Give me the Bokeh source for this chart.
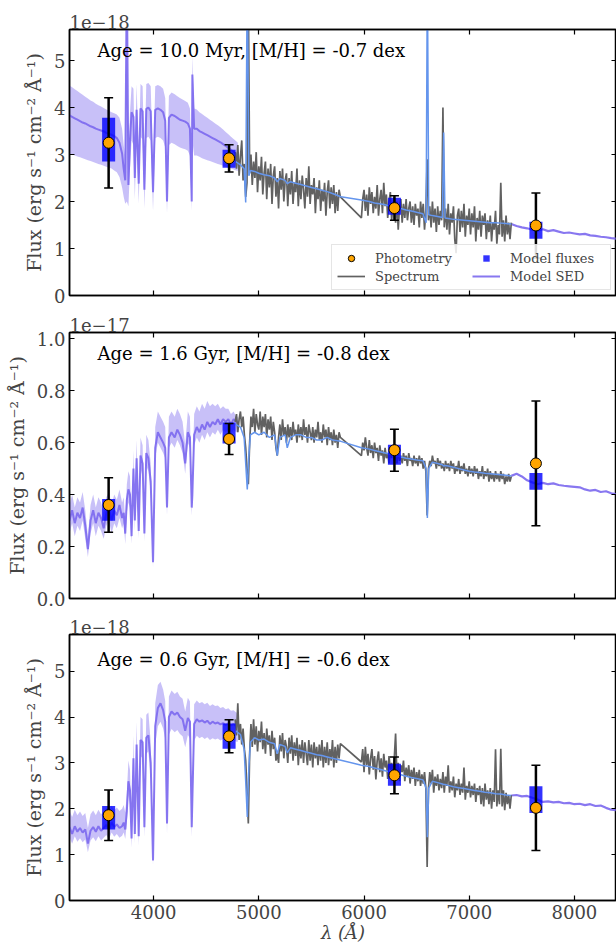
from bokeh.plotting import figure
from bokeh.models import (Label, Legend, LegendItem, LinearAxis, FixedTicker,
                          Range1d, PrintfTickFormatter)
from bokeh.layouts import column
from bokeh.embed import file_html
from bokeh.resources import INLINE

FONT = "DejaVu Serif"

# ---------------- shared axes / labels ----------------
x_ticks = [4000, 5000, 6000, 7000, 8000]
y_ticks_p1 = [0, 1, 2, 3, 4, 5]
y_ticks_p2 = [0.0, 0.2, 0.4, 0.6, 0.8, 1.0]
y_ticks_p3 = [0, 1, 2, 3, 4, 5]
info_texts = ["Age = 10.0 Myr, [M/H] = -0.7 dex",
              "Age = 1.6 Gyr, [M/H] = -0.8 dex",
              "Age = 0.6 Gyr, [M/H] = -0.6 dex"]
scale_texts = ["1e\u221218", "1e\u221217", "1e\u221218"]
legend_labels = ["Photometry", "Spectrum", "Model fluxes", "Model SED"]

# ---------------- wavelength grids (Angstrom) ----------------
sed_wave = [3200, 3225, 3250, 3275, 3300, 3325, 3350, 3375, 3400, 3425, 3450, 3475, 3500, 3525, 3550, 3575, 3600, 3625, 3650, 3675, 3700,
            3715, 3730, 3745, 3760, 3775, 3790, 3808, 3821, 3838, 3858, 3875, 3895, 3912, 3930, 3950, 3972, 3994, 4015, 4040, 4065, 4090, 4110, 4127, 4145, 4170,
            4200, 4225, 4250, 4275, 4300, 4325, 4345, 4362, 4368, 4385,
            4410, 4435, 4460, 4485, 4510, 4535, 4560, 4585, 4610, 4635, 4660, 4685, 4710, 4735, 4760, 4785, 4800]
model_wave = [4780, 4825, 4860, 4875, 4890, 4905, 4920, 4960, 5000, 5050,
              5100, 5150, 5175, 5200, 5250, 5270, 5300, 5350, 5400, 5450,
              5500, 5550, 5600, 5650, 5700, 5780, 5975, 6050, 6100, 6150,
              6200, 6250, 6300, 6350, 6400, 6450, 6500, 6560, 6590, 6602,
              6615, 6650, 6700, 6745, 6757, 6770, 6800, 6850, 6900, 6950,
              7000, 7050, 7100, 7150, 7200, 7250, 7300, 7350, 7400]
# observed spectrum: 12.5 A sampling, with a gap between 5775 and 5975 A
spec_wave = [4775 + 12.5 * i for i in range(81)] + [5975 + 12.5 * j for j in range(115)]
tail_wave = list(range(7400, 8401, 50))
phot_wave = [3572, 4717, 6289, 7634]

# ---------------- panel 1 (x 1e-18) ----------------
p1_sed = [3.83, 3.80, 3.77, 3.74, 3.71, 3.68, 3.66, 3.63, 3.60, 3.58, 3.55, 3.53, 3.51, 3.49, 3.46, 3.44, 3.42, 3.39, 3.35, 3.25, 3.02,
          2.70, 2.45, 7.00, 2.35, 3.30, 3.90, 3.80, 2.50, 3.95, 2.38, 3.98, 3.92, 2.25, 3.97, 4.00, 3.92, 2.20, 3.95, 3.98, 3.95, 3.90, 3.72, 2.00, 3.78, 3.85,
          3.82, 3.78, 3.74, 3.72, 3.70, 3.66, 3.55, 2.00, 4.70, 3.55,
          3.55, 3.50, 3.47, 3.44, 3.41, 3.38, 3.35, 3.32, 3.29, 3.26, 3.22, 3.18, 3.14, 3.10, 3.06, 3.02, 2.99]
p1_sed_hi = [4.47, 4.43, 4.39, 4.35, 4.31, 4.27, 4.23, 4.19, 4.15, 4.12, 4.08, 4.05, 4.02, 3.99, 3.96, 3.93, 3.90, 3.88, 3.85, 3.78, 3.55,
             3.20, 2.95, 7.00, 2.85, 3.90, 4.45, 4.40, 3.00, 4.50, 2.90, 4.50, 4.45, 2.80, 4.50, 4.52, 4.45, 2.70, 4.45, 4.48, 4.45, 4.40, 4.20, 2.45, 4.25, 4.32,
             4.28, 4.24, 4.20, 4.17, 4.14, 4.10, 3.98, 2.45, 5.10, 3.98,
             3.96, 3.90, 3.86, 3.82, 3.78, 3.74, 3.70, 3.66, 3.62, 3.58, 3.53, 3.48, 3.43, 3.38, 3.33, 3.28, 3.25]
p1_sed_lo = [3.02, 3.00, 2.98, 2.96, 2.94, 2.92, 2.90, 2.88, 2.86, 2.84, 2.82, 2.80, 2.78, 2.76, 2.74, 2.72, 2.70, 2.66, 2.62, 2.52, 2.30,
             2.10, 1.95, 2.00, 1.90, 2.70, 3.30, 3.20, 2.05, 3.35, 1.95, 3.38, 3.32, 1.85, 3.35, 3.38, 3.30, 1.80, 3.35, 3.38, 3.35, 3.30, 3.15, 1.75, 3.20, 3.25,
             3.22, 3.18, 3.15, 3.13, 3.11, 3.08, 2.98, 1.80, 3.30, 2.98,
             2.98, 2.95, 2.92, 2.90, 2.88, 2.86, 2.84, 2.82, 2.80, 2.78, 2.76, 2.74, 2.72, 2.70, 2.68, 2.66, 2.65]
p1_model = [2.85, 2.78, 2.70, 1.98, 7.00, 2.55, 2.66, 2.64, 2.60, 2.57,
            2.55, 2.50, 2.42, 2.49, 2.45, 2.38, 2.42, 2.39, 2.36, 2.33,
            2.30, 2.27, 2.24, 2.21, 2.17, 2.10, 2.03, 2.00, 1.97, 1.95,
            1.93, 1.90, 1.87, 1.85, 1.82, 1.80, 1.77, 1.74, 1.55, 7.00,
            1.72, 1.70, 1.68, 1.66, 3.47, 1.65, 1.64, 1.62, 1.61, 1.60,
            1.59, 1.58, 1.57, 1.56, 1.55, 1.55, 1.54, 1.53, 1.52]
p1_spec = [3.05, 2.70, 3.20, 2.55, 2.95, 3.30, 2.45, 2.80, 2.10, 2.40,
           6.50, 2.60, 3.00, 2.35, 2.85, 2.50, 3.05, 2.20, 2.75, 2.45,
           2.95, 2.15, 2.60, 2.85, 2.05, 2.70, 2.30, 2.80, 1.95, 2.55,
           2.75, 2.10, 2.50, 1.85, 2.65, 2.25, 2.70, 2.00, 2.45, 2.60,
           1.90, 2.50, 2.15, 2.65, 1.95, 2.40, 2.20, 2.70, 1.90, 2.45,
           2.05, 2.55, 2.25, 1.85, 2.50, 2.10, 2.75, 1.95, 2.35, 2.15,
           2.50, 1.75, 2.30, 2.05, 2.45, 1.80, 2.25, 2.00, 2.40, 1.70,
           2.20, 2.45, 1.85, 2.30, 1.95, 2.35, 1.75, 2.20, 1.80, 2.25, 2.10,
           1.65, 2.05, 2.25, 1.80, 2.15, 1.70, 2.30, 1.95, 2.20, 1.75,
           2.10, 1.85, 2.35, 1.70, 2.05, 2.25, 1.75, 2.40, 1.90, 2.15,
           1.65, 2.00, 2.20, 1.60, 1.95, 2.10, 1.55, 2.00, 1.40, 1.90,
           2.05, 1.55, 1.95, 1.65, 2.05, 1.60, 1.85, 2.00, 1.55, 1.90,
           1.50, 1.95, 1.70, 1.85, 1.45, 2.00, 1.65, 1.95, 1.40, 1.80,
           2.90, 1.60, 1.90, 1.45, 2.00, 1.55, 1.85, 1.35, 1.90, 1.50,
           1.80, 1.60, 4.00, 1.45, 1.85, 1.40, 1.95, 1.30, 1.75, 1.55,
           1.90, 1.20, 0.90, 1.70, 1.85, 1.35, 1.80, 1.45, 1.95, 1.25,
           1.70, 1.50, 1.85, 1.30, 1.75, 1.45, 1.90, 1.15, 1.65, 1.40,
           1.80, 1.25, 1.70, 1.50, 1.75, 1.20, 1.60, 1.35, 1.70, 1.15,
           1.55, 1.40, 1.80, 1.10, 1.50, 1.30, 2.40, 1.25, 1.60, 1.15,
           1.70, 1.30, 1.55, 1.20, 1.55]
p1_tail = [1.52, 1.48, 1.45, 1.43, 1.40, 1.38, 1.41, 1.37, 1.39, 1.36, 1.33,
           1.34, 1.32, 1.30, 1.31, 1.28, 1.27, 1.25, 1.24, 1.22, 1.21]
p1_phot = [3.25, 2.92, 1.86, 1.49]
p1_phot_err = [0.96, 0.29, 0.26, 0.69]
p1_mf_lo = [2.85, 2.72, 1.72, 1.21]
p1_mf_hi = [3.78, 3.10, 2.08, 1.57]

# ---------------- panel 2 (x 1e-17) ----------------
p2_sed = [0.30, 0.34, 0.29, 0.33, 0.31, 0.35, 0.28, 0.19, 0.30, 0.34, 0.29, 0.33, 0.31, 0.27, 0.33, 0.35, 0.30, 0.34, 0.32, 0.36, 0.31,
          0.33, 0.25, 0.38, 0.42, 0.40, 0.24, 0.50, 0.30, 0.54, 0.26, 0.55, 0.52, 0.25, 0.56, 0.54, 0.45, 0.14, 0.58, 0.64, 0.62, 0.60, 0.58, 0.35, 0.62, 0.64,
          0.62, 0.65, 0.63, 0.60, 0.52, 0.64, 0.62, 0.35, 0.40, 0.63,
          0.66, 0.64, 0.67, 0.65, 0.68, 0.66, 0.68, 0.67, 0.69, 0.67, 0.69, 0.68, 0.69, 0.67, 0.69, 0.68, 0.68]
p2_sed_hi = [0.36, 0.40, 0.35, 0.39, 0.37, 0.41, 0.34, 0.24, 0.36, 0.40, 0.35, 0.39, 0.37, 0.33, 0.39, 0.41, 0.36, 0.40, 0.38, 0.42, 0.37,
             0.39, 0.30, 0.44, 0.49, 0.47, 0.29, 0.57, 0.35, 0.61, 0.31, 0.62, 0.59, 0.30, 0.63, 0.61, 0.52, 0.17, 0.66, 0.72, 0.70, 0.68, 0.66, 0.41, 0.70, 0.72,
             0.70, 0.73, 0.71, 0.68, 0.59, 0.72, 0.70, 0.41, 0.46, 0.71,
             0.74, 0.72, 0.75, 0.73, 0.76, 0.74, 0.75, 0.74, 0.75, 0.73, 0.74, 0.73, 0.73, 0.71, 0.72, 0.70, 0.70]
p2_sed_lo = [0.25, 0.29, 0.24, 0.28, 0.26, 0.30, 0.23, 0.16, 0.25, 0.29, 0.24, 0.28, 0.26, 0.23, 0.28, 0.30, 0.25, 0.29, 0.27, 0.31, 0.27,
             0.29, 0.21, 0.33, 0.37, 0.35, 0.21, 0.45, 0.26, 0.49, 0.23, 0.50, 0.47, 0.22, 0.51, 0.49, 0.41, 0.12, 0.54, 0.60, 0.58, 0.56, 0.54, 0.32, 0.58, 0.60,
             0.58, 0.61, 0.59, 0.56, 0.48, 0.60, 0.58, 0.32, 0.37, 0.59,
             0.62, 0.60, 0.63, 0.61, 0.64, 0.62, 0.64, 0.63, 0.65, 0.63, 0.65, 0.64, 0.65, 0.63, 0.65, 0.64, 0.64]
p2_model = [0.67, 0.66, 0.62, 0.52, 0.42, 0.55, 0.63, 0.64, 0.63, 0.64,
            0.62, 0.63, 0.55, 0.62, 0.63, 0.58, 0.62, 0.63, 0.63, 0.62,
            0.62, 0.61, 0.61, 0.62, 0.61, 0.605, 0.58, 0.575, 0.57, 0.565,
            0.56, 0.555, 0.55, 0.545, 0.54, 0.537, 0.533, 0.53, 0.50, 0.31,
            0.50, 0.525, 0.52, 0.515, 0.51, 0.512, 0.51, 0.505, 0.50, 0.495,
            0.49, 0.487, 0.485, 0.482, 0.48, 0.478, 0.476, 0.474, 0.472]
p2_spec = [0.68, 0.71, 0.64, 0.69, 0.72, 0.66, 0.70, 0.63, 0.58, 0.50,
           0.44, 0.60, 0.70, 0.66, 0.73, 0.64, 0.71, 0.67, 0.65, 0.72,
           0.63, 0.70, 0.66, 0.71, 0.62, 0.69, 0.65, 0.70, 0.61, 0.68,
           0.64, 0.58, 0.55, 0.62, 0.67, 0.61, 0.69, 0.63, 0.66, 0.60,
           0.67, 0.62, 0.66, 0.61, 0.68, 0.63, 0.65, 0.60, 0.67, 0.62,
           0.66, 0.61, 0.69, 0.63, 0.66, 0.60, 0.67, 0.64, 0.61, 0.66,
           0.60, 0.65, 0.62, 0.68, 0.61, 0.64, 0.60, 0.67, 0.62, 0.65,
           0.59, 0.66, 0.61, 0.64, 0.59, 0.65, 0.60, 0.63, 0.58, 0.64, 0.62,
           0.55, 0.60, 0.57, 0.62, 0.58, 0.55, 0.61, 0.56, 0.59, 0.54,
           0.60, 0.56, 0.58, 0.53, 0.59, 0.55, 0.57, 0.52, 0.58, 0.54,
           0.56, 0.52, 0.57, 0.54, 0.58, 0.53, 0.56, 0.52, 0.57, 0.53,
           0.55, 0.52, 0.56, 0.53, 0.55, 0.51, 0.56, 0.53, 0.54, 0.51,
           0.55, 0.52, 0.54, 0.51, 0.55, 0.52, 0.54, 0.50, 0.53, 0.49,
           0.32, 0.50, 0.53, 0.51, 0.55, 0.52, 0.53, 0.50, 0.54, 0.51,
           0.53, 0.50, 0.52, 0.49, 0.53, 0.50, 0.52, 0.49, 0.53, 0.50,
           0.52, 0.48, 0.51, 0.49, 0.53, 0.48, 0.51, 0.49, 0.52, 0.48,
           0.50, 0.47, 0.51, 0.48, 0.50, 0.47, 0.51, 0.48, 0.50, 0.46,
           0.49, 0.47, 0.51, 0.46, 0.49, 0.47, 0.50, 0.45, 0.49, 0.46,
           0.48, 0.45, 0.49, 0.46, 0.48, 0.45, 0.49, 0.46, 0.48, 0.44,
           0.47, 0.45, 0.48, 0.45, 0.47]
p2_tail = [0.472, 0.48, 0.47, 0.455, 0.447, 0.44, 0.445, 0.44, 0.443, 0.437, 0.434,
           0.432, 0.43, 0.428, 0.42, 0.415, 0.418, 0.41, 0.413, 0.405, 0.402]
p2_phot = [0.36, 0.614, 0.571, 0.52]
p2_phot_err = [0.105, 0.06, 0.081, 0.24]
p2_mf_lo = [0.299, 0.597, 0.515, 0.419]
p2_mf_hi = [0.383, 0.678, 0.592, 0.483]

# ---------------- panel 3 (x 1e-18) ----------------
p3_sed = [1.60, 1.45, 1.62, 1.50, 1.58, 1.48, 1.55, 1.24, 1.52, 1.60, 1.50, 1.62, 1.52, 1.58, 1.65, 1.55, 1.70, 1.60, 1.66, 1.58, 1.62,
          1.70, 1.55, 1.95, 2.60, 2.40, 1.35, 3.10, 1.45, 3.40, 1.40, 3.50, 3.45, 1.60, 3.55, 3.60, 3.00, 0.87, 3.80, 4.20, 4.30, 4.15, 3.90, 1.68, 4.00, 4.12,
          4.05, 4.10, 4.00, 3.95, 3.70, 3.98, 3.90, 1.60, 2.20, 3.85,
          3.95, 3.90, 3.93, 3.88, 3.92, 3.85, 3.90, 3.86, 3.88, 3.84, 3.87, 3.83, 3.86, 3.82, 3.85, 3.80, 3.80]
p3_sed_hi = [1.96, 1.82, 1.98, 1.86, 1.94, 1.84, 1.91, 1.58, 1.88, 1.96, 1.86, 1.98, 1.88, 1.94, 2.02, 1.92, 2.07, 1.97, 2.03, 1.95, 2.00,
             2.08, 1.92, 2.35, 3.05, 2.85, 1.70, 3.60, 1.80, 3.90, 1.75, 4.00, 3.95, 1.95, 4.05, 4.10, 3.45, 1.05, 4.30, 4.70, 4.77, 4.60, 4.35, 2.00, 4.45, 4.58,
             4.50, 4.55, 4.45, 4.40, 4.12, 4.42, 4.34, 1.90, 2.55, 4.28,
             4.36, 4.30, 4.33, 4.28, 4.31, 4.24, 4.28, 4.24, 4.25, 4.20, 4.22, 4.17, 4.19, 4.14, 4.15, 4.10, 4.09]
p3_sed_lo = [1.38, 1.24, 1.40, 1.28, 1.36, 1.27, 1.33, 1.05, 1.31, 1.38, 1.29, 1.40, 1.31, 1.37, 1.43, 1.34, 1.48, 1.39, 1.45, 1.37, 1.41,
             1.48, 1.34, 1.70, 2.30, 2.10, 1.15, 2.75, 1.25, 3.05, 1.20, 3.15, 3.10, 1.38, 3.20, 3.25, 2.65, 0.75, 3.40, 3.80, 3.90, 3.75, 3.52, 1.45, 3.62, 3.74,
             3.67, 3.72, 3.63, 3.58, 3.34, 3.61, 3.54, 1.38, 1.95, 3.49,
             3.59, 3.54, 3.57, 3.52, 3.56, 3.50, 3.54, 3.51, 3.53, 3.49, 3.52, 3.48, 3.51, 3.47, 3.50, 3.46, 3.46]
p3_model = [3.70, 3.62, 3.30, 2.60, 1.82, 2.90, 3.45, 3.55, 3.50, 3.52,
            3.45, 3.42, 3.20, 3.40, 3.36, 3.22, 3.33, 3.30, 3.27, 3.24,
            3.21, 3.18, 3.16, 3.13, 3.10, 3.06, 2.95, 2.92, 2.89, 2.86,
            2.83, 2.80, 2.77, 2.74, 2.71, 2.68, 2.66, 2.63, 2.45, 1.38,
            2.45, 2.60, 2.57, 2.54, 2.53, 2.53, 2.51, 2.48, 2.46, 2.44,
            2.42, 2.40, 2.38, 2.36, 2.35, 2.33, 2.32, 2.30, 2.29]
p3_spec = [3.95, 3.60, 4.30, 3.50, 3.85, 3.40, 3.75, 3.30, 3.05, 2.40,
           1.68, 3.20, 3.85, 3.35, 3.95, 3.40, 3.80, 3.25, 3.70, 3.45,
           3.90, 3.30, 3.65, 3.20, 3.75, 3.40, 3.60, 3.15, 3.70, 3.30,
           3.55, 3.05, 3.20, 3.00, 3.60, 3.25, 3.65, 3.10, 3.50, 3.35,
           3.00, 3.55, 3.20, 3.60, 3.05, 3.45, 3.15, 3.55, 2.95, 3.40,
           3.10, 3.50, 3.00, 3.45, 3.20, 2.95, 3.50, 3.05, 3.40, 2.90,
           3.45, 3.10, 3.35, 2.95, 3.40, 3.05, 3.50, 2.90, 3.35, 3.00,
           3.45, 2.95, 3.30, 3.05, 3.50, 2.90, 3.35, 3.00, 3.40, 3.10, 3.42,
           3.02, 3.30, 2.80, 3.35, 2.95, 3.20, 2.75, 3.10, 3.30, 2.85,
           3.15, 2.64, 3.05, 3.25, 2.80, 3.10, 2.70, 3.20, 2.90, 3.05,
           2.65, 3.15, 2.85, 3.00, 2.70, 3.10, 3.64, 2.75, 3.00, 2.60,
           2.95, 2.80, 3.05, 2.60, 2.90, 2.70, 2.95, 2.55, 2.85, 2.65,
           2.90, 2.50, 2.80, 2.60, 2.85, 2.50, 2.75, 2.55, 2.80, 2.45,
           0.73, 2.45, 2.80, 2.55, 2.85, 2.35, 2.70, 2.50, 2.75, 2.40,
           2.65, 2.45, 2.80, 2.35, 2.70, 2.50, 2.95, 2.35, 2.60, 2.40,
           2.70, 2.25, 2.55, 2.40, 2.65, 2.30, 2.55, 2.35, 2.90, 2.20,
           2.50, 2.35, 2.60, 2.25, 2.50, 2.30, 2.55, 2.15, 2.45, 2.30,
           2.50, 2.10, 2.45, 2.05, 2.55, 2.20, 2.40, 2.10, 2.45, 2.00,
           2.40, 2.15, 3.30, 2.05, 2.40, 2.10, 3.31, 2.05, 2.40, 1.97,
           2.35, 2.10, 2.30, 2.00, 2.30]
p3_tail = [2.29, 2.30, 2.27, 2.28, 2.24, 2.20, 2.15, 2.16, 2.14, 2.15, 2.12,
           2.13, 2.10, 2.11, 2.08, 2.10, 2.06, 2.07, 2.02, 1.98, 1.97]
p3_phot = [1.86, 3.58, 2.73, 2.02]
p3_phot_err = [0.55, 0.36, 0.40, 0.93]
p3_mf_lo = [1.55, 3.31, 2.50, 1.91]
p3_mf_hi = [2.06, 3.86, 2.98, 2.49]

# ---------------- styles ----------------
PURPLE = "#7b68ee"
BLUE_LINE = "#6495ed"
GRAY = "#616161"
BOX_HALF_WIDTH = 62
TICK_FS = "18px"
LABEL_FS = "19px"


def style_axis(ax, show_labels):
    ax.major_tick_in = 5
    ax.major_tick_out = 0
    ax.minor_tick_in = 0
    ax.minor_tick_out = 0
    ax.axis_line_width = 1.5
    ax.major_tick_line_width = 1.2
    ax.major_label_text_font = FONT
    ax.axis_label_text_font = FONT
    ax.axis_label_text_font_style = "normal"
    if show_labels:
        ax.major_label_text_font_size = TICK_FS
        ax.axis_label_text_font_size = LABEL_FS
        ax.major_label_standoff = 4
    else:
        ax.major_label_text_font_size = "0px"
        ax.major_label_text_color = None
        ax.major_label_standoff = 0
        ax.axis_label_standoff = 0


def make_panel(sed, sed_lo, sed_hi, tail, model, spec, phot, perr, mf_lo, mf_hi,
               ymax, yticks, yfmt, scale_txt, info_txt, info_y, height, top, bottom,
               show_x, with_legend):
    p = figure(width=616, height=height, x_range=Range1d(3200, 8400),
               y_range=Range1d(0, ymax), output_backend="svg", toolbar_location=None,
               min_border_left=69, min_border_right=0, min_border_top=top,
               min_border_bottom=bottom)
    p.xgrid.visible = False
    p.ygrid.visible = False
    p.outline_line_color = "black"
    p.outline_line_width = 1.5
    p.background_fill_color = "white"

    # axes
    p.xaxis.ticker = FixedTicker(ticks=x_ticks)
    p.yaxis.ticker = FixedTicker(ticks=yticks)
    p.yaxis.formatter = PrintfTickFormatter(format=yfmt)
    style_axis(p.xaxis[0], show_x)
    style_axis(p.yaxis[0], True)
    p.yaxis.axis_label = "Flux (erg s\u207b\u00b9 cm\u207b\u00b2 \u00c5\u207b\u00b9)"
    p.yaxis.axis_label_standoff = 6
    if show_x:
        p.xaxis.axis_label = "\u03bb (\u00c5)"
        p.xaxis.axis_label_text_font_style = "italic"
        p.xaxis.axis_label_text_font_size = TICK_FS
        p.xaxis.axis_label_standoff = 0
    right = LinearAxis(ticker=FixedTicker(ticks=yticks))
    style_axis(right, False)
    p.add_layout(right, "right")
    above = LinearAxis(ticker=FixedTicker(ticks=x_ticks))
    style_axis(above, False)
    p.add_layout(above, "above")

    # scale factor text (offset text)
    p.title.text = scale_txt
    p.title.align = "left"
    p.title.text_font = FONT
    p.title.text_font_size = TICK_FS
    p.title.text_font_style = "normal"
    p.title.standoff = 2
    p.title.offset = 0

    # glyphs
    p.varea(x=sed_wave, y1=sed_lo, y2=sed_hi, fill_color=PURPLE, fill_alpha=0.42)
    r_sed = p.line(sed_wave, sed, line_color=PURPLE, line_width=2, line_alpha=0.9)
    p.line(tail_wave, tail, line_color=PURPLE, line_width=2.2, line_alpha=0.9)
    r_spec = p.line(spec_wave, spec, line_color=GRAY, line_width=1.7)
    p.line(model_wave, model, line_color=BLUE_LINE, line_width=1.5)
    p.quad(left=[w - BOX_HALF_WIDTH for w in phot_wave],
           right=[w + BOX_HALF_WIDTH for w in phot_wave],
           bottom=mf_lo, top=mf_hi, fill_color="blue", fill_alpha=0.8, line_color=None)
    lower = [v - e for v, e in zip(phot, perr)]
    upper = [v + e for v, e in zip(phot, perr)]
    p.segment(x0=phot_wave, y0=lower, x1=phot_wave, y1=upper, line_color="black", line_width=2.5)
    p.scatter(phot_wave, lower, marker="dash", size=9, line_color="black", line_width=1.5)
    p.scatter(phot_wave, upper, marker="dash", size=9, line_color="black", line_width=1.5)
    r_phot = p.scatter(phot_wave, phot, marker="circle", size=11, fill_color="orange",
                       line_color="black", line_width=1)

    p.add_layout(Label(x=3466, y=info_y, text=info_txt, text_font=FONT,
                       text_font_size=TICK_FS, text_baseline="top", text_align="left",
                       text_color="black"))

    if with_legend:
        nan = float("nan")
        r_mf_leg = p.scatter(x=[nan], y=[nan], marker="square", size=13, fill_color="blue",
                             fill_alpha=0.8, line_color=None)
        renderers = {"Photometry": r_phot, "Spectrum": r_spec,
                     "Model fluxes": r_mf_leg, "Model SED": r_sed}
        legend = Legend(items=[LegendItem(label=lab, renderers=[renderers[lab]])
                               for lab in legend_labels],
                        location="bottom_right", ncols=2)
        legend.label_text_font = FONT
        legend.label_text_font_size = "13px"
        legend.border_line_color = "#cccccc"
        legend.border_line_width = 1
        legend.background_fill_alpha = 0.85
        legend.margin = 5
        legend.padding = 5
        legend.spacing = 2
        legend.glyph_width = 28
        legend.glyph_height = 16
        legend.label_height = 16
        legend.label_standoff = 10
        legend.label_width = 95
        p.add_layout(legend)
    return p


p1 = make_panel(p1_sed, p1_sed_lo, p1_sed_hi, p1_tail, p1_model, p1_spec, p1_phot, p1_phot_err,
                p1_mf_lo, p1_mf_hi, 5.66, y_ticks_p1, "%d", scale_texts[0], info_texts[0], 5.43,
                307, 29, 12, False, True)
p2 = make_panel(p2_sed, p2_sed_lo, p2_sed_hi, p2_tail, p2_model, p2_spec, p2_phot, p2_phot_err,
                p2_mf_lo, p2_mf_hi, 1.024, y_ticks_p2, "%.1f", scale_texts[1], info_texts[1], 0.982,
                303, 25, 12, False, False)
p3 = make_panel(p3_sed, p3_sed_lo, p3_sed_hi, p3_tail, p3_model, p3_spec, p3_phot, p3_phot_err,
                p3_mf_lo, p3_mf_hi, 5.8, y_ticks_p3, "%d", scale_texts[2], info_texts[2], 5.49,
                336, 24, 46, True, False)

layout = column(p1, p2, p3, spacing=0)
open("out.html", "w").write(file_html(layout, INLINE))
